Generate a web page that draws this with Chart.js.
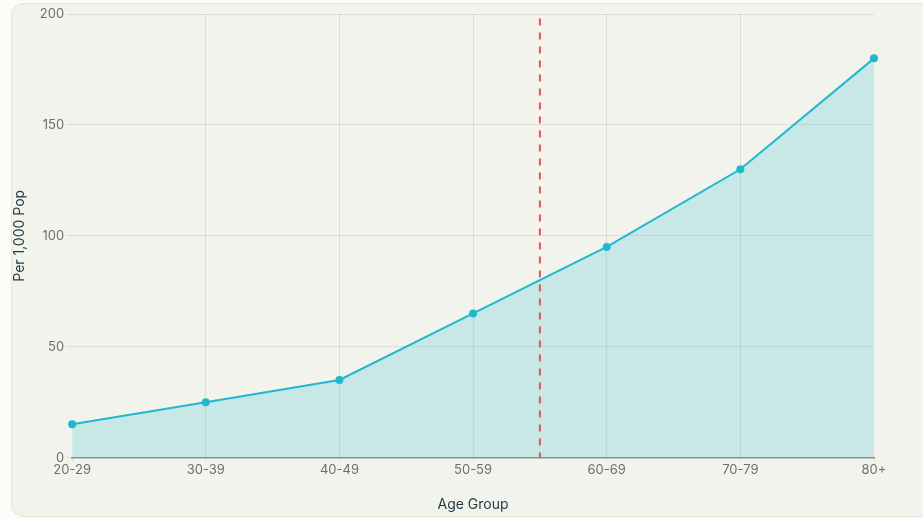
<!DOCTYPE html>
<html lang="en">
  <head>
    <meta charset="UTF-8" />
    <title>Rate by age group</title>
    <style>
      * {
        margin: 0;
        padding: 0;
        box-sizing: border-box;
      }
      body {
        width: 923px;
        height: 519px;
        overflow: hidden;
        background: #fcfcf9;
        position: relative;
      }
      .card {
        position: absolute;
        left: 11px;
        top: 3px;
        width: 940px;
        height: 514px;
        background: #f3f3ee;
        border: 1px solid #e6e6df;
        border-radius: 12px;
      }
      .chartBox {
        position: absolute;
        left: 0;
        top: 0;
        width: 923px;
        height: 519px;
      }
    </style>
  </head>
  <body>
    <div class="card"></div>
    <div class="chartBox">
      <canvas id="myChart"></canvas>
    </div>

    <script src="https://cdn.jsdelivr.net/npm/chart.js"></script>

    <script>
      const ageGroups = ["20-29", "30-39", "40-49", "50-59", "60-69", "70-79", "80+"];
      const ratePer1000 = [15, 25, 35, 65, 95, 130, 180];
      const markerAt = 3.5; // between 50-59 and 60-69

      const lineColor = "#1fb8cd";
      const textFont = "Inter, 'DejaVu Sans', sans-serif";

      const dashedMarker = {
        id: "dashedMarker",
        afterDatasetsDraw(chart) {
          const { ctx, scales: { x, y } } = chart;
          const xPos = x.getPixelForValue(markerAt);
          ctx.save();
          ctx.strokeStyle = "#e05555";
          ctx.lineWidth = 2;
          ctx.setLineDash([7, 7]);
          ctx.beginPath();
          ctx.moveTo(xPos, y.getPixelForValue(198));
          ctx.lineTo(xPos, y.getPixelForValue(0));
          ctx.stroke();
          ctx.restore();
        },
      };

      const ctx = document.getElementById("myChart");
      const lastIndex = ageGroups.length - 1;

      const myChart = new Chart(ctx, {
        type: "line",
        data: {
          labels: ageGroups,
          datasets: [
            {
              label: "Per 1,000 Pop",
              data: ratePer1000,
              borderColor: lineColor,
              backgroundColor: "rgba(31, 184, 205, 0.2)",
              pointBackgroundColor: lineColor,
              pointBorderColor: lineColor,
              pointRadius: 3,
              borderWidth: 2,
              fill: true,
              tension: 0,
            },
          ],
        },
        options: {
          responsive: true,
          maintainAspectRatio: false,
          animation: false,
          layout: {
            padding: { left: 11, right: 49, top: 14, bottom: 6 },
          },
          plugins: {
            legend: { display: false },
            tooltip: { enabled: false },
          },
          scales: {
            x: {
              grid: {
                color: (c) =>
                  c.index === 0 || c.index === lastIndex
                    ? "rgba(0,0,0,0)"
                    : "rgba(0,0,0,0.09)",
                tickColor: "rgba(0,0,0,0.09)",
                tickLength: 4,
              },
              border: { display: true, color: "#8a8f8f", width: 1.5 },
              ticks: {
                color: "#6b6f70",
                font: { family: textFont, size: 13 },
                padding: 1,
                maxRotation: 0,
              },
              title: {
                display: true,
                text: "Age Group",
                color: "#1f3a40",
                font: { family: textFont, size: 14 },
                padding: { top: 17, bottom: 0 },
              },
            },
            y: {
              min: 0,
              max: 200,
              grid: {
                color: "rgba(0,0,0,0.09)",
                tickLength: 6,
              },
              border: { display: false },
              ticks: {
                stepSize: 50,
                color: "#6b6f70",
                font: { family: textFont, size: 13 },
                padding: 2,
              },
              title: {
                display: true,
                text: "Per 1,000 Pop",
                color: "#1f3a40",
                font: { family: textFont, size: 14 },
                padding: { top: 0, bottom: 10 },
              },
            },
          },
        },
        plugins: [dashedMarker],
      });
    </script>
  </body>
</html>
